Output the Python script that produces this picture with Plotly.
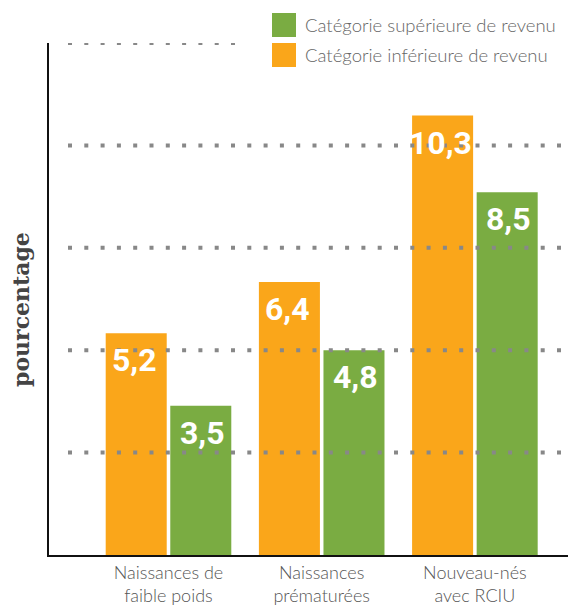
import plotly.graph_objects as go

categories = ["Naissances de<br>faible poids", "Naissances<br>prématurées", "Nouveau-nés<br>avec RCIU"]
low_income = [5.2, 6.4, 10.3]
high_income = [3.5, 4.8, 8.5]
series_names = ["Catégorie inférieure de revenu", "Catégorie supérieure de revenu"]
grid_levels = [2.4, 4.8, 7.2, 9.6, 12]

ORANGE = "#FAA61A"
GREEN = "#7AAC42"

# page body has an 8px margin, so the figure is shifted by that much
OFF = 8
W, H = 576 - OFF, 613 - OFF
L, R, T, B = 49 - OFF, 0, 43 - OFF, 58
pw, ph = W - L - R, H - T - B


def px_x(x):
    return (x - OFF - L) / pw


def px_y(y):
    return (H - B - (y - OFF)) / ph


fig = go.Figure()
for name, vals, color in [(series_names[0], low_income, ORANGE),
                          (series_names[1], high_income, GREEN)]:
    fig.add_trace(go.Bar(
        x=categories, y=vals, name=name, marker_color=color,
        marker_line_width=0, showlegend=False,
    ))

# value labels just inside the top of each bar
for vals, dx in [(low_income, -34), (high_income, 34)]:
    for cat, v in zip(categories, vals):
        fig.add_annotation(x=cat, y=v, text=f"{v:.1f}".replace(".", ","),
                           xshift=dx, yshift=-6, yanchor="top", showarrow=False,
                           font=dict(family="Roboto", size=32, color="white", weight="bold"))

# dotted gridlines drawn above the bars
for lvl in grid_levels:
    x1 = px_x(236) if lvl == grid_levels[-1] else px_x(561)
    fig.add_shape(type="line", xref="paper", yref="y", x0=px_x(68), x1=x1,
                  y0=lvl, y1=lvl, layer="above",
                  line=dict(color="#888888", width=4, dash="4px,12.3px"))

# manual legend (green first, orange second)
for i, (name, color) in enumerate([(series_names[1], GREEN), (series_names[0], ORANGE)]):
    top = 13 + i * 30
    fig.add_shape(type="rect", xref="paper", yref="paper",
                  x0=px_x(272), x1=px_x(296), y0=px_y(top + 24), y1=px_y(top),
                  fillcolor=color, line_width=0, layer="above")
    fig.add_annotation(text=name, xref="paper", yref="paper",
                       x=px_x(303), y=px_y(top + 12), xanchor="left", yanchor="middle",
                       showarrow=False,
                       font=dict(family="Lato", size=18.5, color="#666666", weight=300))

fig.add_annotation(text="pourcentage", xref="paper", yref="paper",
                   x=0, y=0.5, xanchor="right", yanchor="middle",
                   xshift=-13, yshift=-11, textangle=-90, showarrow=False,
                   font=dict(family="DejaVu Serif", size=22, color="#444444", weight="bold"))

fig.update_layout(
    width=W, height=H,
    margin=dict(l=L, r=R, t=T, b=B),
    paper_bgcolor="white", plot_bgcolor="white",
    barmode="group", bargap=0.157, bargroupgap=0.055,
    xaxis=dict(range=[-0.78, 2.66], showline=True, linecolor="#111111", linewidth=2,
               ticks="", showgrid=False,
               tickfont=dict(family="Lato", size=18, color="#555555", weight=300)),
    yaxis=dict(range=[0, 12], showline=True, linecolor="#111111", linewidth=2,
               showticklabels=False, ticks="", showgrid=False, zeroline=False),
)

fig.write_html("out.html")
